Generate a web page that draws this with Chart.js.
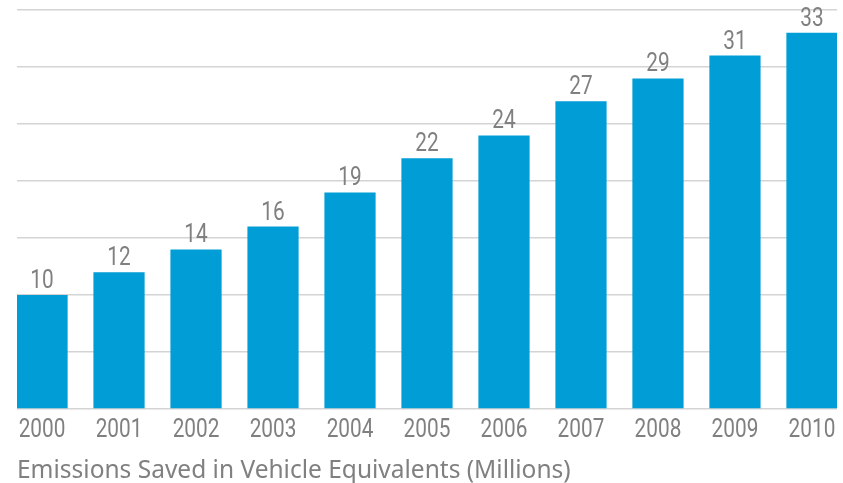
<!DOCTYPE html>
<html>
<head>
<meta charset="utf-8">
<script src="https://cdn.jsdelivr.net/npm/chart.js@4"></script>
<style>
  html, body { margin: 0; padding: 0; background: #fff; }
  #wrap { width: 843px; height: 483px; }
</style>
</head>
<body>
<div id="wrap"><canvas id="emissionsChart"></canvas></div>
<script>
// data
const years = [2000, 2001, 2002, 2003, 2004, 2005, 2006, 2007, 2008, 2009, 2010];
const vehicleEquivalents = [10, 12, 14, 16, 19, 22, 24, 27, 29, 31, 33];
const axisTitle = 'Emissions Saved in Vehicle Equivalents (Millions)';

const barBlue = '#009dd6';
const labelGray = '#808080';
const numFont = "26px 'Roboto', sans-serif";
const squeeze = 0.8; // condensed look for the numbers

function narrowText(ctx, text, x, y) {
  ctx.save();
  ctx.translate(x, y);
  ctx.scale(squeeze, 1);
  ctx.fillText(text, 0, 0);
  ctx.restore();
}

// values above bars + condensed year labels
const numberLabels = {
  id: 'numberLabels',
  afterDraw(chart) {
    const ctx = chart.ctx;
    const meta = chart.getDatasetMeta(0);
    const xScale = chart.scales.x;
    ctx.save();
    ctx.font = numFont;
    ctx.fillStyle = labelGray;
    ctx.textAlign = 'center';
    ctx.textBaseline = 'alphabetic';
    meta.data.forEach((bar, i) => {
      narrowText(ctx, String(vehicleEquivalents[i]), bar.x, bar.y - 7);
    });
    xScale.ticks.forEach(t => {
      narrowText(ctx, String(t.value), xScale.getPixelForValue(t.value), chart.chartArea.bottom + 28);
    });
    ctx.restore();
  }
};

const ctx = document.getElementById('emissionsChart').getContext('2d');
new Chart(ctx, {
  type: 'bar',
  data: {
    datasets: [{
      data: years.map((y, i) => ({ x: y, y: vehicleEquivalents[i] })),
      backgroundColor: barBlue,
      borderWidth: 0,
      categoryPercentage: 1,
      barPercentage: 0.665
    }]
  },
  options: {
    responsive: true,
    maintainAspectRatio: false,
    animation: false,
    layout: { padding: { left: 17, right: 6, top: 10, bottom: 0 } },
    plugins: {
      legend: { display: false },
      tooltip: { enabled: false }
    },
    scales: {
      x: {
        type: 'linear',
        offset: false,
        min: years[0] - 0.325,
        max: years[years.length - 1] + 0.325,
        grid: { display: false, drawTicks: false },
        border: { display: false },
        afterFit(scale) {
          scale.height = 74;
          scale.paddingLeft = 0;
          scale.paddingRight = 0;
        },
        ticks: {
          stepSize: 1,
          includeBounds: false,
          autoSkip: false,
          maxRotation: 0,
          padding: 0,
          color: 'rgba(0,0,0,0)',
          font: { family: 'Roboto', size: 26 },
          callback: v => String(v)
        },
        title: {
          display: true,
          text: axisTitle,
          align: 'start',
          color: labelGray,
          padding: { top: 0, bottom: 0 },
          font: { family: "'Noto Sans', sans-serif", size: 24.5, lineHeight: 1 }
        }
      },
      y: {
        min: 0,
        max: 35,
        ticks: { display: false, stepSize: 5 },
        border: { display: false },
        grid: { color: '#d4d4d4', lineWidth: 1.5, drawTicks: false }
      }
    }
  },
  plugins: [numberLabels]
});
</script>
</body>
</html>
